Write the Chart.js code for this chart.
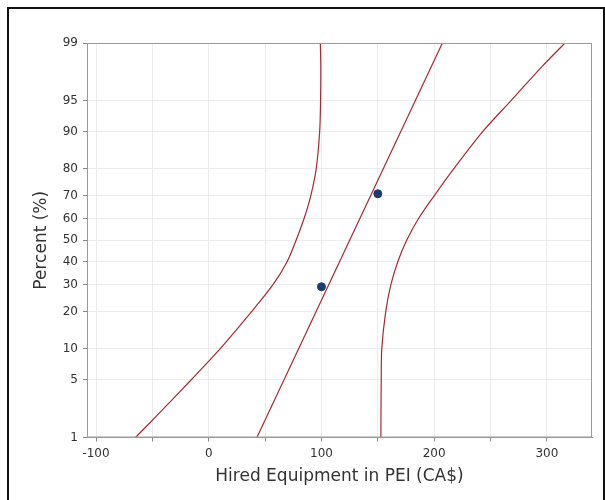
<!DOCTYPE html>
<html>
<head>
<meta charset="utf-8">
<script src="https://cdn.jsdelivr.net/npm/chart.js@4.4.1/dist/chart.umd.min.js"></script>
<style>
  html, body { margin: 0; padding: 0; background: #fff; }
  #wrap { position: relative; width: 605px; height: 500px; overflow: hidden; }
  #frame { position: absolute; left: 7px; top: 7px; width: 594px; height: 520px;
           border: 2px solid #111; pointer-events: none; }
  canvas { position: absolute; left: 0; top: 0; }
</style>
</head>
<body>
<div id="wrap">
  <canvas id="c" width="605" height="500"></canvas>
  <div id="frame"></div>
</div>
<script>
// Probability axis tick positions (percent)
const percentTicks = [1, 5, 10, 20, 30, 40, 50, 60, 70, 80, 90, 95, 99];

// Observations (median-rank plotting positions)
const obsValues  = [100, 150];
const obsPercent = [29.17, 70.83];

// Fitted normal line
const fitValues  = [42.7, 207.3];
const fitPercent = [1, 99];

// Lower confidence band
const lowerPercent = [1, 2, 5, 10, 20, 30, 40, 50, 60, 70, 80, 90, 95, 98, 99];
const lowerValues  = [-65, -45, -15.5, 10, 38, 57, 69.5, 77.5, 84.5, 90.5, 95.3, 98.4, 99.2, 99.4, 99];

// Upper confidence band
const upperPercent = [1, 5, 10, 20, 30, 40, 50, 60, 70, 80, 90, 95, 98, 99];
const upperValues  = [152.7, 153, 153.5, 157, 161.6, 167.7, 175.6, 186, 200, 217.3, 243, 268, 296, 316];

// Inverse standard normal CDF (Acklam) – maps a probability onto the probit axis
function probit(p) {
  const a = [-3.969683028665376e+01, 2.209460984245205e+02, -2.759285104469687e+02,
             1.383577518672690e+02, -3.066479806614716e+01, 2.506628277459239e+00];
  const b = [-5.447609879822406e+01, 1.615858368580409e+02, -1.556989798598866e+02,
             6.680131188771972e+01, -1.328068155288572e+01];
  const c = [-7.784894002430293e-03, -3.223964580411365e-01, -2.400758277161838e+00,
             -2.549671010405346e+00, 4.374664141464968e+00, 2.938163982698783e+00];
  const d = [7.784695709041462e-03, 3.224671290700398e-01, 2.445134137142996e+00,
             3.754408661907416e+00];
  const pl = 0.02425, ph = 1 - pl;
  let q, r;
  if (p < pl) {
    q = Math.sqrt(-2 * Math.log(p));
    return (((((c[0]*q+c[1])*q+c[2])*q+c[3])*q+c[4])*q+c[5]) /
           ((((d[0]*q+d[1])*q+d[2])*q+d[3])*q+1);
  }
  if (p <= ph) {
    q = p - 0.5; r = q * q;
    return (((((a[0]*r+a[1])*r+a[2])*r+a[3])*r+a[4])*r+a[5])*q /
           (((((b[0]*r+b[1])*r+b[2])*r+b[3])*r+b[4])*r+1);
  }
  q = Math.sqrt(-2 * Math.log(1 - p));
  return -(((((c[0]*q+c[1])*q+c[2])*q+c[3])*q+c[4])*q+c[5]) /
          ((((d[0]*q+d[1])*q+d[2])*q+d[3])*q+1);
}

const toPoints = (xs, ps) => xs.map((x, i) => ({ x: x, y: probit(ps[i] / 100) }));

const lineColor = '#a52a32';
const tickFont = { family: 'DejaVu Sans', size: 12 };
const titleFont = { family: 'DejaVu Sans', size: 17 };

// Plot-area outline on all four sides
const plotBorder = {
  id: 'plotBorder',
  afterDraw(chart) {
    const { ctx, chartArea: a } = chart;
    ctx.save();
    ctx.strokeStyle = '#9a9a9a';
    ctx.lineWidth = 1;
    ctx.strokeRect(a.left + 0.5, a.top + 0.5, a.right - a.left - 1, a.bottom - a.top - 1);
    ctx.restore();
  }
};

new Chart(document.getElementById('c'), {
  type: 'scatter',
  data: {
    datasets: [
      { data: toPoints(obsValues, obsPercent), showLine: false,
        pointRadius: 4, pointBackgroundColor: '#1d3b70', pointBorderColor: '#1d3b70', order: 0 },
      { data: toPoints(fitValues, fitPercent), showLine: true, borderColor: lineColor,
        borderWidth: 1.2, pointRadius: 0, order: 1 },
      { data: toPoints(lowerValues, lowerPercent), showLine: true, borderColor: lineColor,
        borderWidth: 1.2, pointRadius: 0, tension: 0.3, order: 1 },
      { data: toPoints(upperValues, upperPercent), showLine: true, borderColor: lineColor,
        borderWidth: 1.2, pointRadius: 0, tension: 0.3, order: 1 }
    ]
  },
  options: {
    responsive: false,
    animation: false,
    layout: { padding: { left: 10, top: 43, right: 13, bottom: 10 } },
    plugins: { legend: { display: false }, tooltip: { enabled: false } },
    scales: {
      x: {
        type: 'linear', min: -108, max: 340,
        afterBuildTicks(scale) {
          const t = [];
          for (let v = -100; v <= 300; v += 50) t.push({ value: v });
          scale.ticks = t;
        },
        afterFit(scale) { scale.height = 52.5; },
        ticks: {
          font: tickFont, color: '#333', padding: 5, maxRotation: 0,
          callback: v => (v % 100 === 0 ? String(v) : '')
        },
        grid: { color: '#ececec', tickColor: '#888', tickLength: 4 },
        border: { color: '#9a9a9a' },
        title: { display: true, text: 'Hired Equipment in PEI (CA$)', font: titleFont,
                 color: '#333', padding: { top: 0, bottom: 3 } }
      },
      y: {
        type: 'linear',
        min: probit(percentTicks[0] / 100),
        max: probit(percentTicks[percentTicks.length - 1] / 100),
        afterBuildTicks(scale) {
          scale.ticks = percentTicks.map(p => ({ value: probit(p / 100) }));
        },
        afterFit(scale) { scale.width = 77; },
        ticks: {
          font: tickFont, color: '#333', padding: 5,
          callback: (v, i) => String(percentTicks[i])
        },
        grid: { color: '#ececec', tickColor: '#888', tickLength: 4 },
        border: { color: '#9a9a9a' },
        title: { display: true, text: 'Percent (%)', font: titleFont,
                 color: '#333', padding: { top: 21, bottom: 0 } }
      }
    }
  },
  plugins: [plotBorder]
});
</script>
</body>
</html>
